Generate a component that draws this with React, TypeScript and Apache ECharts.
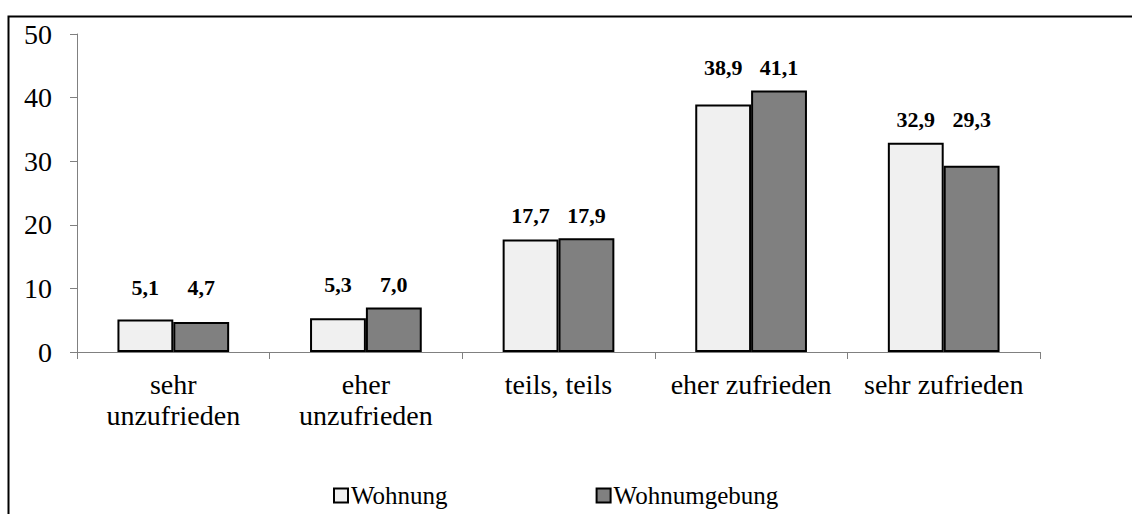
import React, { useEffect, useRef } from "react";
import * as echarts from "echarts";

const categories = ["sehr\nunzufrieden", "eher\nunzufrieden", "teils, teils", "eher zufrieden", "sehr zufrieden"];
const wohnung = [5.1, 5.3, 17.7, 38.9, 32.9];
const wohnumgebung = [4.7, 7.0, 17.9, 41.1, 29.3];
const seriesNames = ["Wohnung", "Wohnumgebung"];
const yMax = 50;
const yInterval = 10;

const W = 1132;
const H = 514;
const gridTop = 34;
const gridBottom = 162;
const gridLeft = 77;
const gridRight = 92;

export default function App() {
  const ref = useRef<HTMLDivElement>(null);
  useEffect(() => {
    if (!ref.current) return;
    const chart = echarts.init(ref.current, null, { renderer: "svg" });
    const ppu = (H - gridTop - gridBottom) / yMax;
    const catMax = categories.map((_, i) => Math.max(wohnung[i], wohnumgebung[i], 6.5));
    const mkData = (arr: number[]) =>
      arr.map((v, i) => ({
        value: v,
        label: { distance: 12 + (catMax[i] - v) * ppu },
      }));
    const font = "'Liberation Serif', 'Times New Roman', serif";
    const labelCommon = {
      show: true,
      position: "top" as const,
      fontFamily: font,
      fontWeight: "bold" as const,
      fontSize: 22,
      color: "#000",
      formatter: (p: any) => p.value.toFixed(1).replace(".", ","),
    };
    chart.setOption({
      animation: false,
      backgroundColor: "#fff",
      textStyle: { fontFamily: font },
      graphic: [
        {
          type: "rect",
          shape: { x: 8.5, y: 16.5, width: 1300, height: 700 },
          style: { fill: "none", stroke: "#000", lineWidth: 2 },
          silent: true,
        },
      ],
      grid: { left: gridLeft, right: gridRight, top: gridTop, bottom: gridBottom },
      legend: {
        left: 328,
        top: 478,
        itemWidth: 14,
        itemHeight: 14,
        itemGap: 148,
        icon: "rect",
        textStyle: { fontFamily: font, fontSize: 25, color: "#000", padding: [0, 0, 0, -2] },
        data: seriesNames,
      },
      xAxis: {
        type: "category",
        data: categories,
        axisLine: { lineStyle: { color: "#808080", width: 1 } },
        axisTick: { show: true, length: 7, lineStyle: { color: "#808080" } },
        axisLabel: {
          fontFamily: font,
          fontSize: 28,
          color: "#000",
          lineHeight: 31,
          margin: 17,
          interval: 0,
        },
      },
      yAxis: {
        type: "value",
        min: 0,
        max: yMax,
        interval: yInterval,
        splitLine: { show: false },
        axisLine: { show: true, lineStyle: { color: "#808080", width: 1 } },
        axisTick: { show: true, length: 7, lineStyle: { color: "#808080" } },
        axisLabel: { fontFamily: font, fontSize: 28, color: "#000", margin: 25 },
      },
      series: [
        {
          name: seriesNames[0],
          type: "bar",
          data: mkData(wohnung),
          barGap: "0%",
          barCategoryGap: "42%",
          itemStyle: { color: "#f0f0f0", borderColor: "#000", borderWidth: 2 },
          label: labelCommon,
        },
        {
          name: seriesNames[1],
          type: "bar",
          data: mkData(wohnumgebung),
          itemStyle: { color: "#808080", borderColor: "#000", borderWidth: 2 },
          label: labelCommon,
        },
      ],
    });
    return () => chart.dispose();
  }, []);
  return (
    <div
      ref={ref}
      style={{ position: "absolute", left: 0, top: 0, width: W, height: H }}
    />
  );
}
